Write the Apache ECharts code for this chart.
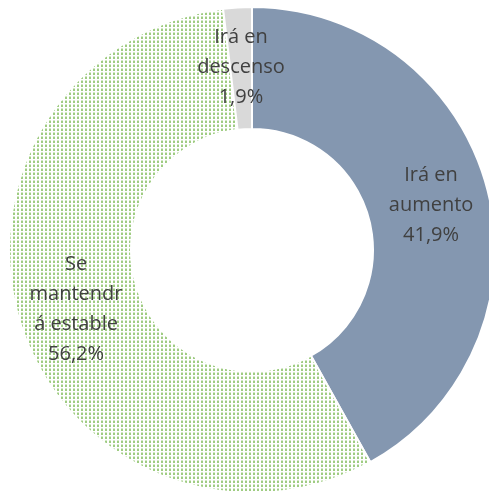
<!DOCTYPE html>
<html>
<head>
<meta charset="utf-8">
<script src="https://cdn.jsdelivr.net/npm/echarts@6/dist/echarts.min.js"></script>
<style>
  html, body { margin: 0; padding: 0; background: #fff; }
  #chart { width: 489px; height: 491px; }
</style>
</head>
<body>
<div id="chart"></div>
<script>
var categories = ["Irá en aumento", "Se mantendrá estable", "Irá en descenso"];
var labelTexts = ["Irá en\naumento", "Se\nmantendr\ná estable", "Irá en\ndescenso"];
var values = [41.9, 56.2, 1.9];

// dotted fill like the excel pattern
var dotCanvas = document.createElement('canvas');
dotCanvas.width = 4;
dotCanvas.height = 4;
var ctx = dotCanvas.getContext('2d');
ctx.fillStyle = '#ffffff';
ctx.fillRect(0, 0, 4, 4);
ctx.fillStyle = '#d3e8c5';
ctx.fillRect(1, 0, 2, 3);
ctx.fillStyle = '#9fcc82';
ctx.fillRect(1, 1, 2, 2);

var fills = ['#8497B0', { image: dotCanvas, repeat: 'repeat' }, '#D9D9D9'];

var chart = echarts.init(document.getElementById('chart'));
var option = {
    animation: false,
    series: [{
        type: 'pie',
        center: [252, 250],
        radius: [121, 243],
        startAngle: 90,
        clockwise: true,
        data: categories.map(function(c, i) {
            return {
                name: c,
                value: values[i],
                itemStyle: { color: fills[i] }
            };
        }),
        itemStyle: {
            borderColor: '#ffffff',
            borderWidth: 2
        },
        label: {
            show: true,
            position: 'inside',
            fontFamily: 'Open Sans',
            fontSize: 20,
            lineHeight: 30,
            color: '#404040',
            offset: [0, 2],
            formatter: function(p) {
                return labelTexts[p.dataIndex] + '\n' + p.value.toFixed(1).replace('.', ',') + '%';
            }
        },
        labelLine: { show: false },
        emphasis: { disabled: true }
    }]
};
chart.setOption(option);
</script>
</body>
</html>
